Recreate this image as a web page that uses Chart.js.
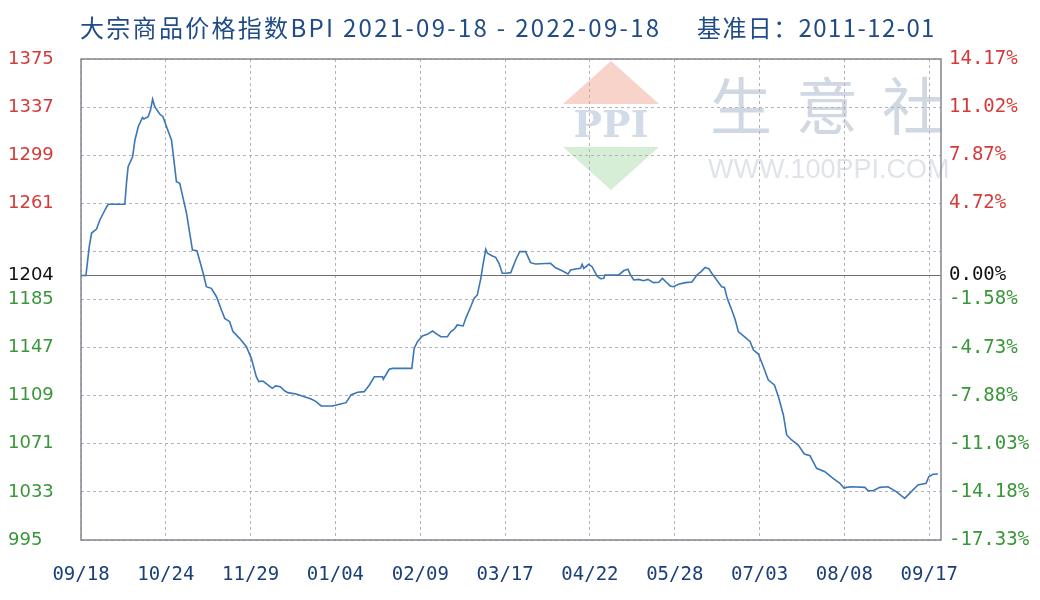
<!DOCTYPE html>
<html lang="zh">
<head>
<meta charset="utf-8">
<title>大宗商品价格指数BPI</title>
<script src="https://cdn.jsdelivr.net/npm/chart.js@4/dist/chart.umd.min.js"></script>
<style>
  html, body { margin: 0; padding: 0; background: #fff; }
  #bpi { display: block; }
</style>
</head>
<body>
<canvas id="bpi" width="1040" height="600"></canvas>
<script>
// 大宗商品价格指数 BPI，2021-09-18 至 2022-09-18

const titleMain = '大宗商品价格指数BPI 2021-09-18 - 2022-09-18';
const titleBase = '基准日：2011-12-01';

// 横轴：以天计，每 36 天一个刻度
const xTickDays = [0, 36, 72, 108, 144, 180, 216, 252, 288, 324, 360];
const xLabels = ['09/18', '10/24', '11/29', '01/04', '02/09', '03/17', '04/22', '05/28', '07/03', '08/08', '09/17'];

// 纵轴刻度（1223 只有网格线，没有标签）
const baseValue = 1204;
const yTicks = [995, 1033, 1071, 1109, 1147, 1185, 1204, 1223, 1261, 1299, 1337, 1375];
const leftLabels = ['995', '1033', '1071', '1109', '1147', '1185', '1204', '', '1261', '1299', '1337', '1375'];
const rightLabels = ['-17.33%', '-14.18%', '-11.03%', '-7.88%', '-4.73%', '-1.58%', '0.00%', '', '4.72%', '7.87%', '11.02%', '14.17%'];

// 指数走势（天数, 指数值）
const bpiDays = [
    0, 2.1, 3.5, 4.5, 6.6, 8.0, 10.9, 11.6, 18.6, 19.3, 20.0, 21.9, 22.9, 24.3, 26.1, 26.7, 28.5, 29.5, 30.4, 31.3,
    33.4, 34.8, 36.3, 38.4, 39.1, 40.5, 41.9, 44.8, 47.3, 49.2, 51.1, 52.1, 53.2, 55.3, 57.5, 59.6, 61.0, 63.1, 64.5, 67.3,
    70.2, 72.3, 74.4, 75.5, 77.2, 79.3, 81.2, 82.6, 84.6, 86.4, 87.8, 91.3, 94.8, 97.7, 99.8, 101.9, 106.8, 109.7, 112.5, 114.6,
    117.4, 120.2, 122.4, 124.5, 128.0, 128.3, 130.8, 132.2, 140.4, 141.4, 142.8, 144.9, 147.0, 149.2, 150.6, 152.7, 155.5, 157.0, 158.4, 159.7,
    162.2, 163.3, 165.4, 166.8, 168.2, 169.7, 170.6, 171.8, 172.5, 174.6, 176.0, 177.4, 178.8, 180.2, 182.4, 184.5, 186.2, 188.7, 190.8, 192.9,
    199.3, 201.4, 204.2, 206.7, 207.8, 209.9, 212.0, 212.7, 213.4, 215.5, 216.9, 219.0, 220.5, 221.9, 222.3, 228.2, 230.3, 232.1, 233.2, 234.6,
    236.7, 238.8, 240.6, 243.0, 245.2, 246.8, 248.2, 250.1, 251.5, 253.6, 256.5, 259.3, 261.4, 263.2, 264.9, 266.6, 267.7, 269.8, 271.9, 273.1,
    274.1, 274.8, 276.2, 277.6, 279.0, 281.9, 284.0, 285.4, 287.5, 289.6, 291.7, 294.3, 296.0, 298.1, 299.5, 301.6, 304.4, 307.0, 309.4, 312.2,
    315.7, 319.2, 322.1, 323.9, 324.9, 327.0, 332.7, 334.1, 336.2, 339.0, 342.5, 346.0, 349.6, 352.4, 355.2, 358.7, 359.8, 361.6, 363.7
];
const bpiValues = [
    1204, 1204, 1226.7, 1237.5, 1240.7, 1247.8, 1258.3, 1260.2, 1260.2, 1277, 1289.9, 1297.8, 1311, 1321.5, 1328.9, 1327.6, 1329.4, 1334.7, 1343.2, 1337.3,
    1331.5, 1329.4, 1321.5, 1311, 1300.5, 1278, 1276.8, 1253.1, 1224.1, 1223.5, 1210.9, 1204, 1195.1, 1193.8, 1187.2, 1176.7, 1170.1, 1167.5, 1159.6, 1154.3,
    1147.7, 1138.5, 1124, 1120.1, 1120.6, 1117.5, 1114.8, 1116.7, 1116.1, 1112.9, 1111.4, 1110.3, 1108.2, 1106.4, 1104.3, 1100.9, 1100.9, 1102.2, 1103.5, 1109.6,
    1111.7, 1112.2, 1117.5, 1124, 1124, 1122, 1129.9, 1130.6, 1130.6, 1146.4, 1151.7, 1156.2, 1157.5, 1160.1, 1158.3, 1155.6, 1155.6, 1159.6, 1161.5, 1164.9,
    1164.1, 1170.1, 1179.3, 1185.9, 1188.6, 1201.7, 1212.3, 1224.7, 1221.5, 1219.4, 1218.3, 1213.6, 1205.7, 1205.7, 1206.2, 1216.2, 1222.8, 1222.8, 1214.1, 1213,
    1213.6, 1210.1, 1207.7, 1205.1, 1208.3, 1209.1, 1209.6, 1212.8, 1209.6, 1212.8, 1210.9, 1203.6, 1201.4, 1201.7, 1204.4, 1204.4, 1207.7, 1208.9, 1204.4, 1200.4,
    1200.9, 1199.8, 1200.9, 1198.3, 1198.6, 1201.7, 1199, 1195.7, 1195.1, 1197, 1198.3, 1198.8, 1204.4, 1207, 1210.4, 1209.1, 1205.7, 1200.4, 1195.1, 1194.6,
    1187.2, 1183.3, 1176.7, 1169.4, 1159.6, 1155.1, 1151.7, 1145.1, 1141.9, 1131.9, 1121.4, 1117.5, 1108.2, 1093.8, 1078, 1074, 1070, 1062.9, 1061.6, 1051.6,
    1049, 1043.7, 1039.8, 1035.8, 1036.6, 1037.1, 1036.6, 1033.9, 1033.9, 1036.6, 1037.1, 1033.2, 1027.9, 1033.2, 1038.5, 1039.8, 1045, 1046.9, 1047.1
];

const RED = '#d43a3a';
const GREEN = '#3a963a';
const BLACK = '#111111';
const GRID = '#b6b0bc';

function tickColor(value) {
    if (value > baseValue) return RED;
    if (value < baseValue) return GREEN;
    return BLACK;
}

// 背景水印：生意社 logo
const watermarkPlugin = {
    id: 'bpiWatermark',
    beforeDraw(chart) {
        const ctx = chart.ctx;
        ctx.save();
        ctx.fillStyle = '#ffffff';
        ctx.fillRect(0, 0, chart.width, chart.height);

        // 上三角（红）与下三角（绿）
        ctx.fillStyle = '#f7d3c9';
        ctx.beginPath();
        ctx.moveTo(611, 61);
        ctx.lineTo(659, 104);
        ctx.lineTo(563, 104);
        ctx.closePath();
        ctx.fill();
        ctx.fillStyle = '#d6eed6';
        ctx.beginPath();
        ctx.moveTo(563, 147);
        ctx.lineTo(659, 147);
        ctx.lineTo(611, 190);
        ctx.closePath();
        ctx.fill();

        ctx.fillStyle = '#d2dbe8';
        ctx.font = 'bold 38px "DejaVu Serif"';
        ctx.textAlign = 'center';
        ctx.textBaseline = 'middle';
        ctx.fillText('PPI', 611, 127);

        ctx.fillStyle = '#d0d8e4';
        ctx.font = '62px "Noto Sans CJK SC"';
        ['生', '意', '社'].forEach((ch, i) => ctx.fillText(ch, 741 + i * 86, 106));

        ctx.fillStyle = '#e0e4ea';
        ctx.font = '27px "Liberation Sans"';
        ctx.textAlign = 'left';
        ctx.fillText('WWW.100PPI.COM', 708, 171);
        ctx.restore();
    }
};

// 基准线与外框
const framePlugin = {
    id: 'bpiFrame',
    beforeDatasetsDraw(chart) {
        const {ctx, chartArea} = chart;
        const y = Math.round(chart.scales.y.getPixelForValue(baseValue)) + 0.5;
        ctx.save();
        ctx.strokeStyle = '#6e6e6e';
        ctx.lineWidth = 1;
        ctx.beginPath();
        ctx.moveTo(chartArea.left, y);
        ctx.lineTo(chartArea.right, y);
        ctx.stroke();
        ctx.strokeStyle = '#85858f';
        ctx.lineWidth = 1.5;
        ctx.strokeRect(chartArea.left, chartArea.top, chartArea.right - chartArea.left, chartArea.bottom - chartArea.top);
        ctx.restore();
    }
};

// 标题
const titlePlugin = {
    id: 'bpiTitle',
    afterDraw(chart) {
        const ctx = chart.ctx;
        ctx.save();
        ctx.fillStyle = '#1f4b86';
        ctx.font = '24px "Noto Sans CJK SC"';
        ctx.textAlign = 'left';
        ctx.textBaseline = 'middle';
        ctx.letterSpacing = '2.3px';
        ctx.fillText(titleMain, 80, 28);
        ctx.letterSpacing = '1.4px';
        ctx.fillText(titleBase, 697, 28);
        ctx.restore();
    }
};

const ctx = document.getElementById('bpi').getContext('2d');

new Chart(ctx, {
    type: 'line',
    data: {
        datasets: [{
            label: 'BPI',
            data: bpiDays.map((d, i) => ({x: d, y: bpiValues[i]})),
            borderColor: '#3b76b6',
            borderWidth: 1.6,
            pointRadius: 0,
            tension: 0,
            fill: false
        }]
    },
    options: {
        responsive: false,
        animation: false,
        layout: {
            padding: {left: 8, right: 0, top: 59, bottom: 0}
        },
        plugins: {
            legend: {display: false},
            tooltip: {enabled: false}
        },
        scales: {
            x: {
                type: 'linear',
                min: 0,
                max: 365,
                afterBuildTicks: scale => {
                    scale.ticks = xTickDays.map(v => ({value: v}));
                },
                afterFit: scale => {
                    scale.height = 60;
                },
                ticks: {
                    autoSkip: false,
                    maxRotation: 0,
                    padding: 24,
                    color: '#1b3f7a',
                    font: {family: 'DejaVu Sans Mono', size: 19},
                    callback: (value, index) => xLabels[index]
                },
                grid: {
                    color: GRID,
                    lineWidth: 1,
                    drawTicks: false
                },
                border: {display: false, dash: [3, 3]}
            },
            y: {
                position: 'left',
                min: 995,
                max: 1375,
                afterBuildTicks: scale => {
                    scale.ticks = yTicks.map(v => ({value: v}));
                },
                afterFit: scale => {
                    scale.width = 73;
                },
                ticks: {
                    crossAlign: 'far',
                    color: c => tickColor(c.tick.value),
                    font: {family: 'DejaVu Sans', size: 18},
                    callback: (value, index) => leftLabels[index]
                },
                grid: {
                    color: c => (c.tick && c.tick.value === baseValue ? 'rgba(0,0,0,0)' : GRID),
                    lineWidth: 1,
                    drawTicks: false
                },
                border: {display: false, dash: [3, 3]}
            },
            y2: {
                position: 'right',
                min: 995,
                max: 1375,
                afterBuildTicks: scale => {
                    scale.ticks = yTicks.map(v => ({value: v}));
                },
                afterFit: scale => {
                    scale.width = 99;
                },
                ticks: {
                    padding: 8,
                    color: c => tickColor(c.tick.value),
                    font: {family: 'DejaVu Sans Mono', size: 19},
                    callback: (value, index) => rightLabels[index]
                },
                grid: {display: false, drawTicks: false},
                border: {display: false}
            }
        }
    },
    plugins: [watermarkPlugin, framePlugin, titlePlugin]
});
</script>
</body>
</html>
